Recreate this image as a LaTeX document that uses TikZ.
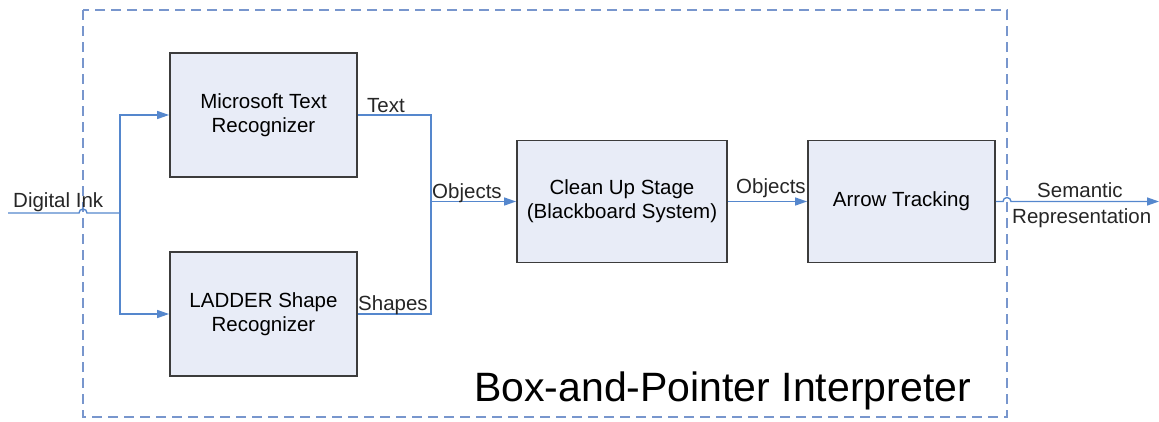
\documentclass[tikz,border=0pt]{standalone}
\usepackage{fontspec}
\setmainfont{Liberation Sans}
\usetikzlibrary{arrows.meta}
\definecolor{lineblue}{RGB}{85,135,205}
\definecolor{dashblue}{RGB}{120,150,205}
\definecolor{boxfill}{RGB}{232,236,247}
\definecolor{boxdraw}{RGB}{60,60,60}
\tikzset{
  procbox/.style={draw=boxdraw, line width=1.8pt, fill=boxfill, align=center,
    font=\fontsize{20.5}{24}\selectfont, inner sep=0pt},
  conn/.style={draw=lineblue, line width=1.4pt},
  arr/.style={conn, -{Triangle[length=12pt,width=8pt]}},
  lbl/.style={font=\fontsize{20.5}{24}\selectfont, inner sep=0pt, text=black!85},
}
\begin{document}
\begin{tikzpicture}[x=1pt,y=-1pt]
\useasboundingbox (0,0) rectangle (1159,421);
% dashed frame
\draw[dashblue, line width=1.4pt, dash pattern=on 10pt off 6pt] (83,10) rectangle (1007,417);
% boxes
\node[procbox, minimum width=187pt, minimum height=124pt] (mtr) at (263.5,115) {Microsoft Text\\Recognizer};
\node[procbox, minimum width=187pt, minimum height=124pt] (lad) at (263.5,314) {LADDER Shape\\Recognizer};
\node[procbox, minimum width=210pt, minimum height=122pt] (cln) at (622,201.5) {Clean Up Stage\\(Blackboard System)};
\node[procbox, minimum width=187pt, minimum height=122pt] (atr) at (901.5,201.5) {Arrow Tracking};
% coordinates
\coordinate (in) at (8,213);
\coordinate (sp) at (120,213);
\coordinate (m) at (431,201.5);
\coordinate (out) at (1159,201.5);
% input
\draw[conn] (in) -- (79,213) arc[start angle=180,end angle=0,radius=4pt] -- (sp);
\draw[arr] (sp) |- (mtr.west);
\draw[arr] (sp) |- (lad.west);
% merge
\draw[conn] (mtr.east) -| (m) |- (lad.east);
\draw[arr] (m) -- (cln.west);
\draw[arr] (cln.east) -- (atr.west);
\draw[arr] (atr.east) -- (1003,201.5) arc[start angle=180,end angle=0,radius=4pt] -- (out);
% labels
\node[lbl, anchor=base west] (l1) at (13,207) {Digital Ink};
\node[lbl, anchor=base west] (l2) at (367,112) {Text};
\node[lbl, anchor=base west] (l3) at (432,198) {Objects};
\node[lbl, anchor=base west] (l4) at (358,310) {Shapes};
\node[lbl, anchor=base west] (l5) at (736,193) {Objects};
\node[lbl, anchor=base west] (l6) at (1037,197) {Semantic};
\node[lbl, anchor=base west] (l7) at (1012,223) {Representation};
\node[lbl, anchor=base west, font=\fontsize{41}{48}\selectfont, text=black] (ttl) at (474,401) {Box-and-Pointer Interpreter};
\end{tikzpicture}
\end{document}
